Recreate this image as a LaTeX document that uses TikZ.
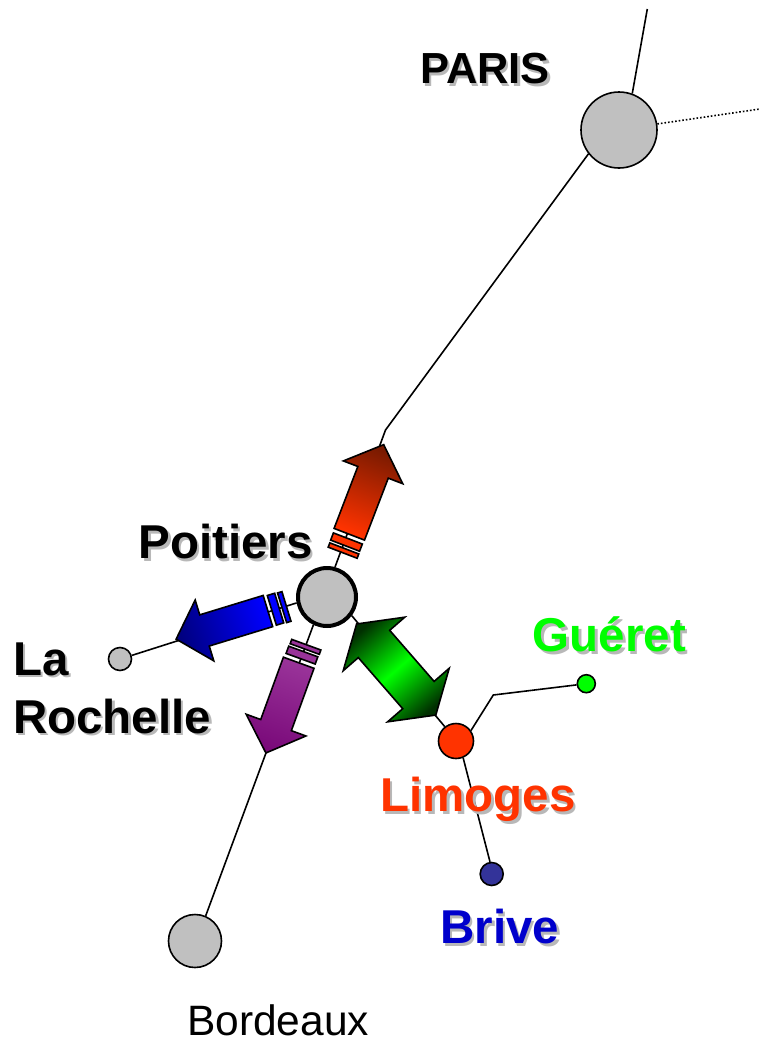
\documentclass[tikz,border=0pt]{standalone}
\usepackage{fontspec}
\setmainfont{Liberation Sans}
\usetikzlibrary{calc, positioning, shapes.arrows}

\definecolor{citygray}{HTML}{C0C0C0}
\definecolor{limogesred}{HTML}{FF3300}
\definecolor{brivedot}{HTML}{333399}
\definecolor{brivetext}{HTML}{0000CC}
\definecolor{gueretgreen}{HTML}{00FF00}
\definecolor{purplelight}{HTML}{993399}
\definecolor{purpledark}{HTML}{7A0A7A}
\definecolor{reddark}{HTML}{7A1A00}
\definecolor{bluedark}{HTML}{000080}
\definecolor{greendark}{HTML}{003000}
\definecolor{textshade}{HTML}{B8B8B8}

\newcommand{\shadowtext}[1]{\leavevmode\rlap{\kern2.5pt\raisebox{-2.5pt}{\color{textshade}#1}}#1}

\tikzset{
	city/.style={circle, draw, line width=1.6pt, fill=citygray, inner sep=0pt},
	citylabel/.style={inner sep=0pt, font=\fontsize{47.5}{58}\selectfont\bfseries},
	link/.style={line width=1.6pt},
	flowarrow/.style={single arrow, draw, line width=1.6pt, inner xsep=0pt, inner ysep=15.5pt, minimum height=96pt, single arrow head extend=15.5pt, single arrow tip angle=94, anchor=tail},
	gapstripe/.style={rectangle, draw, line width=1.6pt, inner sep=0pt, minimum width=31pt},
}

\begin{document}
\begin{tikzpicture}[x=1pt, y=-1pt]
	\useasboundingbox (0,0) rectangle (760,1037);

	\node[city, minimum size=76pt]	(Paris) at (619,130) {};
	\node[city, minimum size=58pt, line width=4pt]	(Poitiers) at (327,597) {};
	\node[city, minimum size=23pt]	(LaRochelle) at (120,659) {};
	\node[city, minimum size=53pt]	(Bordeaux) at (195,941) {};
	\node[city, minimum size=35pt, fill=limogesred]	(Limoges) at (456,741) {};
	\node[city, minimum size=23pt, fill=brivedot]	(Brive) at (491.7,874) {};
	\node[city, minimum size=18pt, fill=gueretgreen]	(Gueret) at (586.3,683.7) {};

	\coordinate (ParisNorth) at (647.3,9);
	\coordinate (ParisEast) at (760,109);
	\coordinate (ParisBend) at (385.5,430);
	\coordinate (GueretBend) at (493.3,695);

	\draw[link] (Paris.70) -- (ParisNorth);
	\draw[link, dotted] (Paris.9) -- (ParisEast);
	\draw[link] (Paris.218) -- (ParisBend) -- (Poitiers.75);
	\draw[link] (LaRochelle.17) -- (Poitiers.191);
	\draw[link] (Poitiers.244) -- (Bordeaux.67);
	\draw[link] (Poitiers.-37) -- (Limoges.128);
	\draw[link] (Limoges.35) -- (GueretBend) -- (Gueret);
	\draw[link] (Limoges.-67) -- (Brive.98);

	\node[flowarrow, rotate=69, top color=reddark, bottom color=limogesred, shading angle=-21]	(ToParis) at (349,535) {};
	\node[gapstripe, rotate=-21, minimum height=7.7pt, fill=limogesred]	(ToParisA) at ($(ToParis.tail)!7.5pt!(Poitiers)$) {};
	\node[gapstripe, rotate=-21, minimum height=4.6pt, fill=limogesred]	(ToParisB) at ($(ToParis.tail)!16.5pt!(Poitiers)$) {};

	\node[flowarrow, rotate=197, top color=bluedark, bottom color=blue, shading angle=107]	(ToLaRochelle) at (268.7,610.8) {};
	\node[gapstripe, rotate=107, minimum height=7.7pt, fill=blue]	(ToLaRochelleA) at ($(ToLaRochelle.tail)!7pt!(Poitiers)$) {};
	\node[gapstripe, rotate=107, minimum height=4.6pt, fill=blue]	(ToLaRochelleB) at ($(ToLaRochelle.tail)!16pt!(Poitiers)$) {};

	\node[flowarrow, rotate=250, top color=purpledark, bottom color=purplelight, shading angle=160]	(ToBordeaux) at (299,662) {};
	\node[gapstripe, rotate=160, minimum height=7.7pt, fill=purplelight]	(ToBordeauxA) at ($(ToBordeaux.tail)!7.5pt!(Poitiers)$) {};
	\node[gapstripe, rotate=160, minimum height=4.6pt, fill=purplelight]	(ToBordeauxB) at ($(ToBordeaux.tail)!16.5pt!(Poitiers)$) {};

	\node[double arrow, draw, line width=1.6pt, inner xsep=0pt, inner ysep=20pt, minimum height=120.7pt, double arrow head extend=20pt, double arrow tip angle=114, rotate=311, top color=greendark, bottom color=greendark, middle color=gueretgreen, shading angle=221]	(ToLimoges) at (396.2,669.5) {};

	\node[citylabel, left=30pt of Paris, yshift=60pt, font=\fontsize{43.5}{50}\selectfont\bfseries]	(ParisLabel) {\shadowtext{PARIS}};
	\node[citylabel, left=-17pt of Poitiers, yshift=54pt]	(PoitiersLabel) {\shadowtext{Poitiers}};
	\node[citylabel, below=-29pt of LaRochelle, xshift=-8pt, align=left]	(LaRochelleLabel) {\shadowtext{La}\\\shadowtext{Rochelle}};
	\node[citylabel, below=18pt of Limoges, xshift=22pt, text=limogesred]	(LimogesLabel) {\shadowtext{Limoges}};
	\node[citylabel, below=23pt of Brive, xshift=8pt, text=brivetext]	(BriveLabel) {\shadowtext{Brive}};
	\node[citylabel, above=19pt of Gueret, xshift=23pt, text=gueretgreen]	(GueretLabel) {\shadowtext{Guéret}};
	\node[inner sep=0pt, below=36pt of Bordeaux, xshift=83pt, font=\fontsize{42.5}{50}\selectfont]	(BordeauxLabel) {Bordeaux};
\end{tikzpicture}
\end{document}
